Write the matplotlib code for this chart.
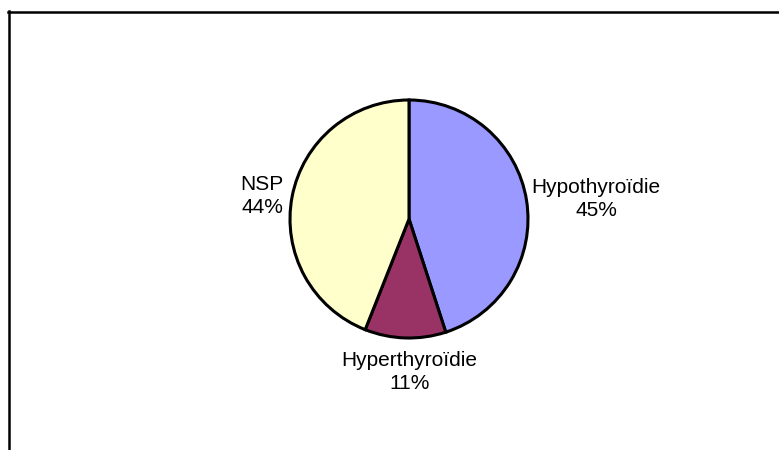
import matplotlib
matplotlib.use("Agg")
import matplotlib.pyplot as plt
from matplotlib.lines import Line2D

categories = ["Hypothyroïdie", "Hyperthyroïdie", "NSP"]
values = [45, 11, 44]
colors = ["#9999FF", "#993366", "#FFFFCC"]

W, H = 779, 450
fig = plt.figure(figsize=(W / 100, H / 100), dpi=100)
fig.patch.set_facecolor("white")

ax = fig.add_axes([0, 0, 1, 1])

cx, cy, r = 409, H - 219, 119
ax.pie(values, colors=colors, startangle=90, counterclock=False,
       center=(cx, cy), radius=r, frame=True,
       wedgeprops=dict(edgecolor="black", linewidth=2.2))
ax.set_xlim(0, W)
ax.set_ylim(0, H)
ax.set_aspect("equal")
ax.axis("off")

label_pos = {
    "Hypothyroïdie": (596, H - 199),
    "Hyperthyroïdie": (409.5, H - 372),
    "NSP": (262, H - 196),
}
for name, v in zip(categories, values):
    x, y = label_pos[name]
    ax.text(x, y, f"{name}\n{v}%", ha="center", va="center",
            fontsize=15, family="Liberation Sans", linespacing=1.28)

# chart-area frame (left and top edges)
fig.add_artist(Line2D([8.5 / W, 8.5 / W], [0, 1 - 11 / H],
                      transform=fig.transFigure, color="black", lw=1.8))
fig.add_artist(Line2D([8 / W, 1], [1 - 11.5 / H, 1 - 11.5 / H],
                      transform=fig.transFigure, color="black", lw=1.8))

fig.savefig("out.png", dpi=100)
